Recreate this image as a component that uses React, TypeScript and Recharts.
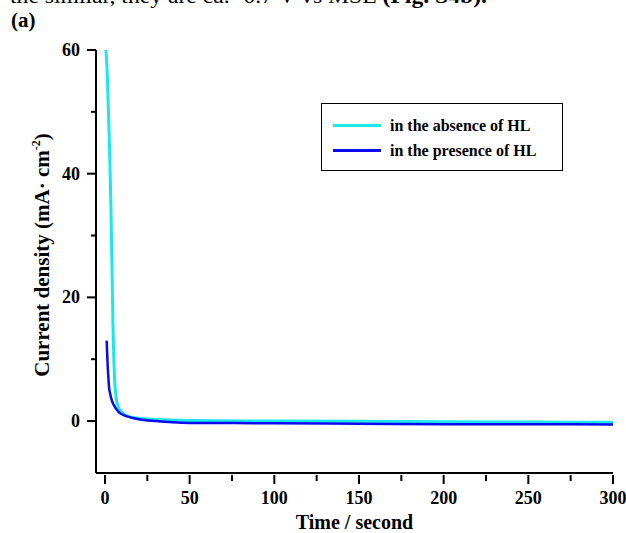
import { LineChart, Line, XAxis, YAxis } from "recharts";

// time (s) and current density (mA·cm-2)
const absenceTime = [0.6, 1.5, 2.5, 3.5, 4.2, 4.7, 5.5, 6.5, 8, 10, 13, 20, 30, 50, 100, 150, 200, 250, 300];
const absenceCurrent = [60, 55, 46, 35, 24, 16, 8, 4, 2.2, 1.4, 0.85, 0.45, 0.25, 0.1, 0, -0.05, -0.1, -0.15, -0.2];

const presenceTime = [1, 1.5, 2, 2.4, 3, 4, 5, 6, 8, 10, 15, 20, 30, 40, 50, 100, 150, 200, 250, 300];
const presenceCurrent = [13, 9.5, 7, 5.5, 4.5, 3.4, 2.7, 2.2, 1.5, 1.1, 0.6, 0.3, 0, -0.2, -0.3, -0.35, -0.45, -0.5, -0.52, -0.55];

const xMajor = [0, 50, 100, 150, 200, 250, 300];
const xMinor = [25, 75, 125, 175, 225, 275];
const yMajor = [0, 20, 40, 60];
const yMinor = [10, 30, 50];

const seriesNames = ["in the absence of HL", "in the presence of HL"];
const seriesColors = ["#19E8EC", "#0A0AF0"];

const absence = absenceTime.map((t, i) => ({ t, j: absenceCurrent[i] }));
const presence = presenceTime.map((t, i) => ({ t, j: presenceCurrent[i] }));

const font = "'Liberation Serif', 'Times New Roman', serif";

function XTick(props: any) {
  const { x, y, payload } = props;
  const major = xMajor.includes(payload.value);
  const axisY = y - 8 - 10;
  return (
    <g>
      <line x1={x} x2={x} y1={axisY + 2} y2={axisY + (major ? 11 : 8)} stroke="#000" strokeWidth={2} />
      {major && (
        <text x={x} y={y + 13} textAnchor="middle" fontFamily={font} fontWeight="bold" fontSize={18} fill="#000">
          {payload.value}
        </text>
      )}
    </g>
  );
}

function YTick(props: any) {
  const { x, y, payload } = props;
  const major = yMajor.includes(payload.value);
  const axisX = x + 8 + 8;
  return (
    <g>
      <line x1={axisX} x2={axisX - (major ? 9 : 5)} y1={y} y2={y} stroke="#000" strokeWidth={2} />
      {major && (
        <text x={x} y={y + 6} textAnchor="end" fontFamily={font} fontWeight="bold" fontSize={18} fill="#000">
          {payload.value}
        </text>
      )}
    </g>
  );
}

function LegendBox() {
  return (
    <div
      style={{
        position: "absolute",
        left: 321,
        top: 103,
        border: "1.5px solid #000",
        width: 242,
        height: 68,
        boxSizing: "border-box",
        padding: "9px 0 0 11px",
        fontFamily: font,
        fontWeight: "bold",
        fontSize: 16,
        background: "#fff",
      }}
    >
      {seriesNames.map((name, i) => (
        <div key={name} style={{ display: "flex", alignItems: "center", height: 25 }}>
          <span style={{ display: "inline-block", width: 48, height: 3, background: seriesColors[i], marginRight: 9 }} />
          {name}
        </div>
      ))}
    </div>
  );
}

export default function App() {
  return (
    <div style={{ position: "absolute", left: 0, top: 0, width: 626, height: 533, background: "#fff", overflow: "hidden" }}>
      <svg width={626} height={60} style={{ position: "absolute", left: 0, top: 0 }}>
        <text x={10} y={3} fontFamily={font} fontSize={21} fill="#000" textLength={477} lengthAdjust="spacingAndGlyphs">
          the similar, they are ca. -0.7 V vs MSE <tspan fontWeight="bold">(Fig. S4b).</tspan>
        </text>
        <text x={11} y={27} fontFamily={font} fontWeight="bold" fontSize={21} fill="#000">
          (a)
        </text>
      </svg>
      <LineChart width={626} height={533} margin={{ top: 50, right: 13, bottom: 0, left: 36 }}>
        <XAxis
          type="number"
          dataKey="t"
          domain={[-5.3, 300]}
          ticks={[...xMajor, ...xMinor].sort((a, b) => a - b)}
          tick={<XTick />}
          tickLine={false}
          tickSize={8}
          tickMargin={10}
          height={60}
          axisLine={{ stroke: "#000", strokeWidth: 2 }}
          allowDataOverflow
          label={{
            value: "Time / second",
            position: "insideBottom",
            offset: 4,
            style: { fontFamily: font, fontWeight: "bold", fontSize: 20, fill: "#000" },
          }}
        />
        <YAxis
          type="number"
          domain={[-8.4, 60]}
          ticks={[...yMajor, ...yMinor].sort((a, b) => a - b)}
          tick={<YTick />}
          tickLine={false}
          tickSize={8}
          tickMargin={8}
          width={60}
          axisLine={{ stroke: "#000", strokeWidth: 2 }}
          allowDataOverflow
        />
        <Line
          data={absence}
          dataKey="j"
          name={seriesNames[0]}
          stroke={seriesColors[0]}
          strokeWidth={3}
          dot={false}
          type="monotone"
          isAnimationActive={false}
        />
        <Line
          data={presence}
          dataKey="j"
          name={seriesNames[1]}
          stroke={seriesColors[1]}
          strokeWidth={2.5}
          dot={false}
          type="monotone"
          isAnimationActive={false}
        />
      </LineChart>
      <LegendBox />
      <svg width={626} height={533} style={{ position: "absolute", left: 0, top: 0, pointerEvents: "none" }}>
        <text
          transform="translate(49,255) rotate(-90)"
          textAnchor="middle"
          fontFamily={font}
          fontWeight="bold"
          fontSize={21}
          fill="#000"
        >
          Current density (mA· cm
          <tspan fontSize={12} dy={-9}>-2</tspan>
          <tspan dy={9}>)</tspan>
        </text>
      </svg>
    </div>
  );
}
